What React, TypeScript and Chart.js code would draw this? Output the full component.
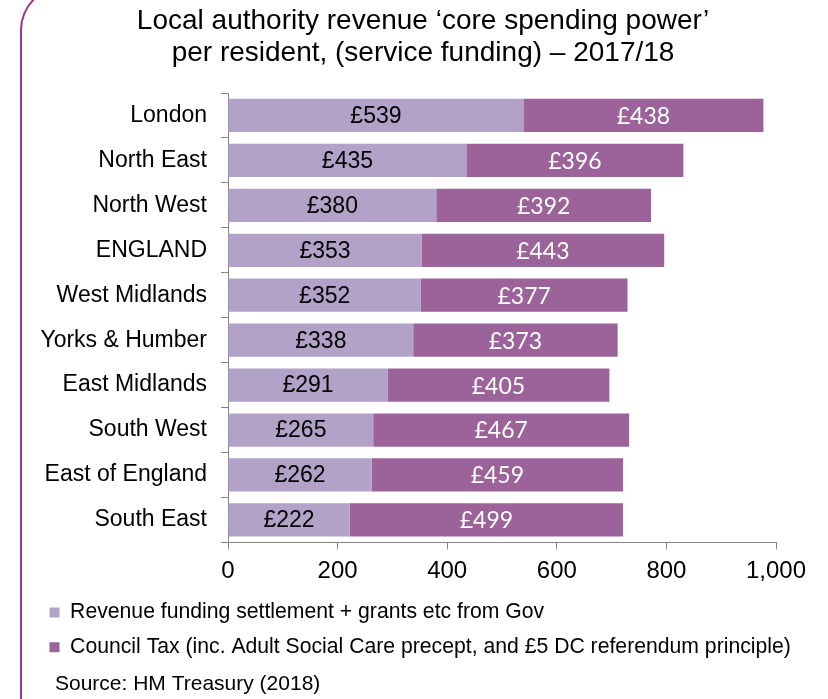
import React, { useEffect, useRef } from 'react';
import { Chart, registerables } from 'chart.js';

Chart.register(...registerables);

const regions = [
  'London',
  'North East',
  'North West',
  'ENGLAND',
  'West Midlands',
  'Yorks & Humber',
  'East Midlands',
  'South West',
  'East of England',
  'South East',
];
const govFunding = [539, 435, 380, 353, 352, 338, 291, 265, 262, 222];
const councilTax = [438, 396, 392, 443, 377, 373, 405, 467, 459, 499];
const xTickValues = [0, 200, 400, 600, 800, 1000];
const seriesNames = [
  'Revenue funding settlement + grants etc from Gov',
  'Council Tax (inc. Adult Social Care precept, and £5 DC referendum principle)',
];
const titleLines = [
  'Local authority revenue \u2018core spending power\u2019',
  'per resident, (service funding) \u2013 2017/18',
];
const sourceText = 'Source: HM Treasury (2018)';

const ARIAL = '"Liberation Sans", Arial, sans-serif';
const LIGHT = '#B3A2C7';
const DARK = '#9B6399';
const AXIS = '#868686';

const segmentLabels = {
  id: 'segmentLabels',
  afterDatasetsDraw(chart: any) {
    const ctx = chart.ctx;
    ctx.save();
    ctx.textAlign = 'center';
    ctx.textBaseline = 'middle';
    chart.data.datasets.forEach((ds: any, di: number) => {
      const meta = chart.getDatasetMeta(di);
      if (meta.hidden) return;
      if (di === 0) {
        ctx.font = '23px ' + ARIAL;
        ctx.fillStyle = '#000000';
      } else {
        ctx.font = '23px Lato, "Open Sans", sans-serif';
        ctx.fillStyle = '#ffffff';
      }
      meta.data.forEach((el: any, i: number) => {
        const p = el.getProps(['x', 'y', 'base'], true);
        ctx.fillText('\u00A3' + ds.data[i], (p.x + p.base) / 2, p.y + 1);
      });
    });
    ctx.restore();
  },
};

// Nudge the horizontal placement of the title, legend and source line
const blockPlacement = {
  id: 'blockPlacement',
  beforeDraw(chart: any) {
    const move = (box: any, left: number) => {
      if (!box) return;
      const w = box.right - box.left;
      box.left = left;
      box.right = left + w;
    };
    const tb = chart.titleBlock;
    if (tb) {
      const w = tb.right - tb.left;
      move(tb, 423 - w / 2);
    }
    move(chart.legend, 36);
    (chart.boxes || []).forEach((b: any) => {
      if (b !== tb && b.options && b.options.text === sourceText) move(b, 55);
    });
  },
};

export default function App() {
  const ref = useRef<HTMLCanvasElement>(null);

  useEffect(() => {
    const chart = new Chart(ref.current as HTMLCanvasElement, {
      type: 'bar',
      data: {
        labels: regions,
        datasets: [
          {
            label: seriesNames[0],
            data: govFunding,
            backgroundColor: LIGHT,
            borderWidth: 0,
            barPercentage: 0.74,
            categoryPercentage: 1,
          },
          {
            label: seriesNames[1],
            data: councilTax,
            backgroundColor: DARK,
            borderWidth: 0,
            barPercentage: 0.74,
            categoryPercentage: 1,
          },
        ],
      },
      options: {
        indexAxis: 'y',
        responsive: false,
        animation: false,
        layout: { padding: { left: 20, right: 52, top: 0, bottom: 0 } },
        scales: {
          x: {
            stacked: true,
            min: 0,
            max: 1000,
            afterBuildTicks: (scale: any) => {
              scale.ticks = xTickValues.map((v) => ({ value: v }));
            },
            afterFit: (scale: any) => {
              scale.height = 46;
            },
            grid: {
              drawOnChartArea: false,
              drawTicks: true,
              tickLength: 7,
              color: AXIS,
            },
            border: { display: true, color: AXIS, width: 1 },
            ticks: {
              padding: 8,
              color: '#000',
              font: { family: ARIAL, size: 24 },
              callback: (v: any) => Number(v).toLocaleString('en-US'),
            },
          },
          y: {
            stacked: true,
            afterFit: (scale: any) => {
              scale.width = 208;
            },
            grid: {
              drawOnChartArea: false,
              drawTicks: true,
              tickLength: 7,
              color: AXIS,
              offset: true,
            },
            border: { display: true, color: AXIS, width: 1 },
            ticks: {
              padding: 14,
              color: '#000',
              font: { family: ARIAL, size: 23 },
            },
          },
        },
        plugins: {
          tooltip: { enabled: false },
          title: {
            display: true,
            text: titleLines,
            color: '#000',
            font: { family: ARIAL, size: 28, weight: 'normal', lineHeight: 1.15 },
            padding: { top: 5, bottom: 23.6 },
          },
          subtitle: {
            display: true,
            text: sourceText,
            position: 'bottom',
            align: 'start',
            color: '#000',
            font: { family: ARIAL, size: 21, weight: 'normal', lineHeight: 1.2 },
            padding: { top: 4, bottom: 2 },
          },
          legend: {
            display: true,
            position: 'bottom',
            align: 'start',
            labels: {
              boxWidth: 10,
              boxHeight: 10,
              padding: 13.5,
              color: '#000',
              font: { family: ARIAL, size: 21.2 },
            },
          },
        },
      },
      plugins: [segmentLabels, blockPlacement],
    } as any);
    return () => chart.destroy();
  }, []);

  return (
    <div
      style={{
        position: 'absolute',
        left: 0,
        top: 0,
        width: 828,
        height: 699,
        overflow: 'hidden',
        background: '#ffffff',
      }}
    >
      <div
        style={{
          position: 'absolute',
          left: 20,
          top: -14,
          width: 900,
          height: 800,
          borderLeft: '2px solid #973A8C',
          borderTop: '2px solid #973A8C',
          borderTopLeftRadius: 44,
          boxSizing: 'border-box',
        }}
      />
      <canvas
        ref={ref}
        width={828}
        height={699}
        style={{ position: 'absolute', left: 0, top: 0, width: 828, height: 699 }}
      />
    </div>
  );
}
